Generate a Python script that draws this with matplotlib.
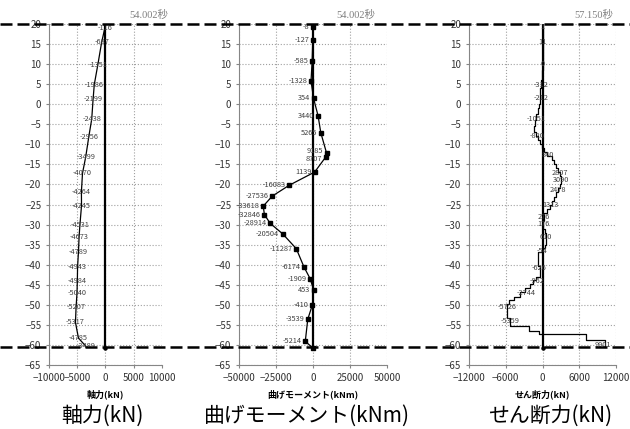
import matplotlib
matplotlib.use('Agg')
import matplotlib.pyplot as plt
import matplotlib.transforms as mtransforms
from matplotlib.lines import Line2D

plt.rcParams['font.family'] = ['Noto Sans CJK JP', 'DejaVu Sans']

# ---------------- data ----------------
time_labels = ['54.002秒', '54.002秒', '57.150秒']
small_xlabels = ['軸力(kN)', '曲げモーメント(kNm)', 'せん断力(kN)']
big_labels = ['軸力(kN)', '曲げモーメント(kNm)', 'せん断力(kN)']

# axial force (kN) vs depth (m)
axial_values = [-116, -687, -1351, -1986, -2199, -2438, -2956, -3499, -4070, -4264,
                -4245, -4531, -4673, -4789, -4943, -4984, -5040, -5207, -5317, -4785, -3489]
axial_depths = [19.0, 15.4, 9.9, 4.9, 1.2, -3.7, -8.1, -13.1, -17.2, -21.8,
                -25.3, -30.1, -33.0, -36.9, -40.6, -44.0, -47.0, -50.6, -54.4, -58.3, -60.3]

# bending moment (kNm) vs depth (m); last point is the wall toe
moment_values = [-8, -127, -585, -1328, 354, 3440, 5265, 9185, 8707, 1139, -16083,
                 -27536, -33618, -32846, -28914, -20504, -11287, -6174, -1909, 453,
                 -410, -3539, -5214, 0]
moment_depths = [19.2, 16.1, 10.7, 5.8, 1.5, -2.9, -7.1, -12.2, -13.1, -16.9, -20.2,
                 -22.9, -25.4, -27.5, -29.7, -32.3, -36.0, -40.5, -43.5, -46.3,
                 -50.0, -53.6, -59.1, -60.8]

# shear force step profile (kN): value holds from each top depth down to the next
shear_tops = [20, 8.5, 6, 4, 2, 0, -1, -2.5, -4, -5.5, -7, -8, -9, -10, -11, -12, -13,
              -14, -15, -16, -17, -18, -20, -21, -22, -23, -24, -25, -26, -27, -29,
              -31, -32, -33, -35, -35.8, -36.75, -40.3, -43, -43.8, -44.9, -45.9,
              -46.9, -48, -48.8, -49.7, -53.4, -55.3, -56.5, -57.2, -58.8]
shear_steps = [0, -100, -250, -330, -450, -600, -800, -1000, -1200, -1320, -1100, -800,
               -400, -100, 300, 700, 1500, 1800, 2200, 2500, 2800, 3050, 2900, 2500,
               2150, 1900, 1500, 1150, 700, 250, 150, 350, 550, 650, 400, 0, -720,
               -440, -990, -1550, -2100, -2900, -3750, -4580, -5400, -5800, -5300,
               -2220, -560, 7050, 10150]
shear_bottom = -60.5

# shear data labels
shear_label_values = [1, 11, 0, -312, -212, -1051, -820, 840, 2807, 3090, 2478, 1313,
                      276, 176, 610, -54, -626, -962, -2744, -5726, -5359, 9901]
shear_label_depths = [19.2, 15.4, 10.0, 4.8, 1.6, -3.8, -7.8, -12.7, -17.2, -19.0,
                      -21.5, -25.0, -28.0, -29.9, -33.0, -36.6, -40.7, -44.0, -47.0,
                      -50.5, -54.0, -60.0]

wall_top = 20
wall_toe = -60.8
level_lines = [20, -60.5]

# ---------------- figure ----------------
W, H = 630, 429
fig = plt.figure(figsize=(W / 100, H / 100), dpi=100)


def rect(l, r, t, b):
    return [l / W, 1 - b / H, (r - l) / W, (b - t) / H]


ax1 = fig.add_axes(rect(49, 162, 24, 365))
ax2 = fig.add_axes(rect(239, 387, 24, 365))
ax3 = fig.add_axes(rect(469, 616, 24, 365))

TICK = '#333333'
LBL = '#404040'


def style(ax, xlim, xticks):
    ax.set_xlim(*xlim)
    ax.set_ylim(-65, 20)
    ax.set_xticks(xticks)
    ax.set_yticks(range(-65, 21, 5))
    ax.grid(True, linestyle=':', color='#a0a0a0', linewidth=0.8)
    ax.set_axisbelow(True)
    for s in ['top', 'right']:
        ax.spines[s].set_visible(False)
    for s in ['left', 'bottom']:
        ax.spines[s].set_color('#868686')
        ax.spines[s].set_linewidth(0.8)
    ax.tick_params(labelsize=7, colors=TICK, length=2.5, width=0.8, pad=3)
    ax.tick_params(color='#868686')
    # wall (zero line)
    ax.plot([0, 0], [wall_top, wall_toe], color='k', lw=1.6, zorder=3)
    ax.plot([0], [wall_toe], 'o', color='k', ms=2.2, zorder=3)


style(ax1, (-10000, 10000), [-10000, -5000, 0, 5000, 10000])
style(ax2, (-50000, 50000), [-50000, -25000, 0, 25000, 50000])
style(ax3, (-12000, 12000), [-12000, -6000, 0, 6000, 12000])

# panel 1: axial
ax1.plot(axial_values, axial_depths, color='k', lw=0.9, zorder=4)
for v, d in zip(axial_values, axial_depths):
    ax1.text(v, d, str(v), ha='center', va='center', fontsize=5.3, color=LBL, zorder=5)

# panel 2: moment
ax2.plot(moment_values, moment_depths, color='k', lw=0.9, marker='s', ms=2.8, zorder=4)
for i, (v, d) in enumerate(zip(moment_values[:-1], moment_depths[:-1])):
    dy = 0
    if i == 7:
        dy = 1.6
    elif i == 8:
        dy = -1.6
    ax2.annotate(str(v), (v, d), xytext=(-2.5, dy), textcoords='offset points',
                 ha='right', va='center', fontsize=5.3, color=LBL, zorder=5)

# panel 3: shear
ax3.plot(shear_steps + [shear_steps[-1]], shear_tops + [shear_bottom],
         drawstyle='steps-pre', color='k', lw=0.9, zorder=4)
for v, d in zip(shear_label_values, shear_label_depths):
    ax3.text(v, d, str(v), ha='center', va='center', fontsize=5.3, color=LBL, zorder=5)

# time labels
for x, t in zip([149, 356, 594], time_labels):
    fig.text(x / W, 1 - 15 / H, t, ha='center', va='center', fontsize=7.5,
             color='#7f7f7f', family=['Liberation Serif', 'Noto Sans CJK JP'])

# small axis titles
for x, t in zip([105, 313, 542], small_xlabels):
    fig.text(x / W, 1 - 394 / H, t, ha='center', va='center', fontsize=6.5,
             weight='bold', color='#000000')

# big labels
for x, t in zip([102.5, 307, 550], big_labels):
    fig.text(x / W, 1 - 416 / H, t, ha='center', va='center', fontsize=15, color='k')

# dashed level lines across the whole figure
trans = mtransforms.blended_transform_factory(fig.transFigure, ax1.transData)
for y in level_lines:
    fig.add_artist(Line2D([0, 1], [y, y], transform=trans, color='k', lw=1.8,
                          linestyle=(0, (4.8, 2)), zorder=10))

fig.savefig('out.png', dpi=100)
